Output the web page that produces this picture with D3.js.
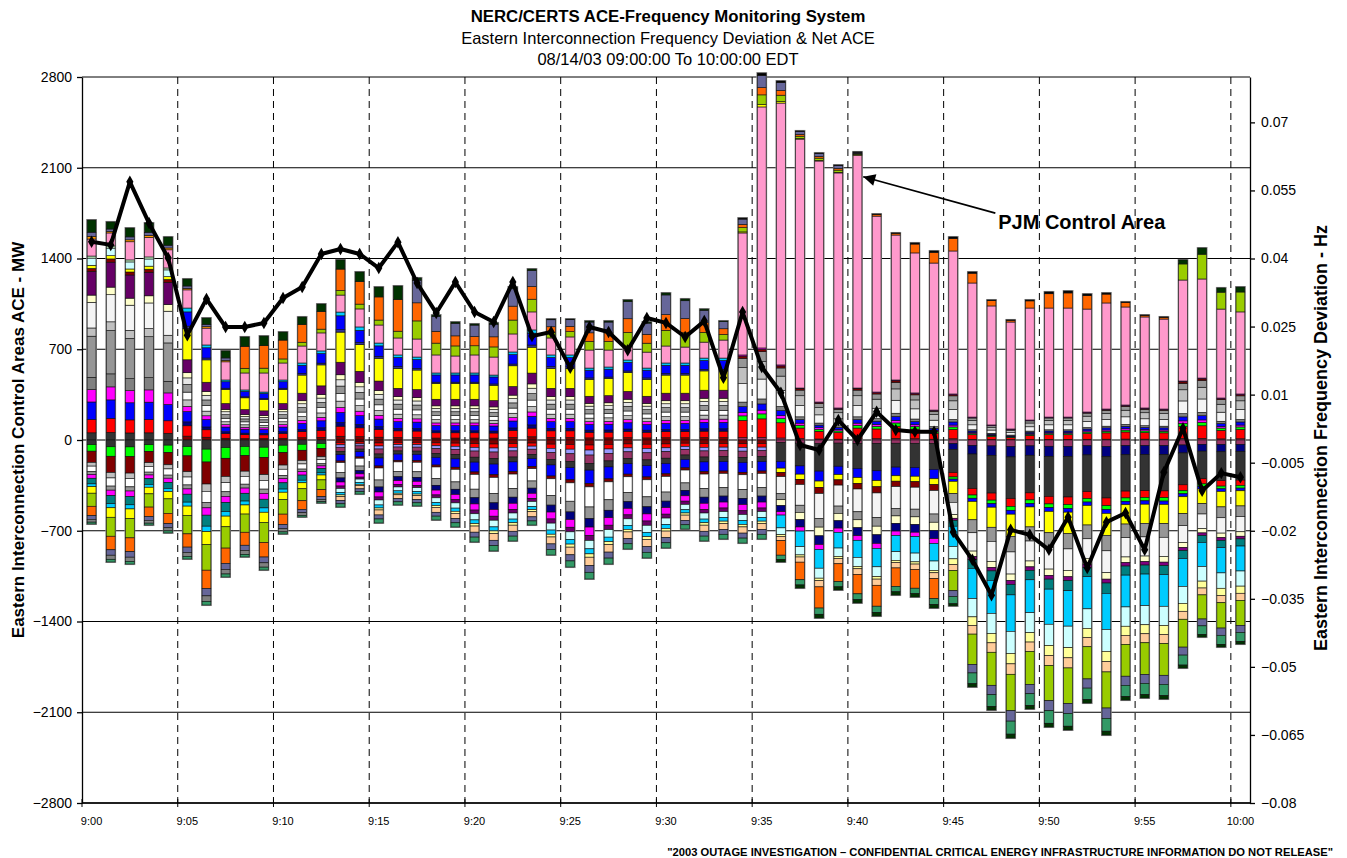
<!DOCTYPE html>
<html>
<head>
<meta charset="utf-8">
<script src="https://d3js.org/d3.v7.min.js"></script>
<style>
	body { margin: 0; background: #fff; }
	svg { font-family: Arial, "Liberation Sans", sans-serif; }
	.title { font-size: 16.8px; font-weight: bold; }
	.subtitle { font-size: 16.5px; }
	.axis text { font-size: 14px; fill: #000; }
	.xlab { font-size: 11px; }
	.axis_title { font-size: 17px; font-weight: bold; }
	.axis_title.right { font-size: 18px; }
	.note { font-size: 20px; font-weight: bold; }
	.footer { font-size: 11.2px; font-weight: bold; }
</style>
</head>
<body>
<script>
	// one bar per minute, 9:00 .. 10:00
	var tickLabels = ["9:00", "9:05", "9:10", "9:15", "9:20", "9:25", "9:30", "9:35", "9:40", "9:45", "9:50", "9:55", "10:00"];
	var leftTicks = [-2800, -2100, -1400, -700, 0, 700, 1400, 2100, 2800];
	var rightTicks = [-0.08, -0.065, -0.05, -0.035, -0.02, -0.005, 0.01, 0.025, 0.04, 0.055, 0.07];

	// positive ACE of the areas stacked under PJM (MW)
	var upOther = [1419,1497,1389,1412,1327,1018,733,463,386,370,
		463,594,687,987,872,748,656,640,517,517,
		517,501,679,849,656,656,555,563,617,555,
		594,594,632,632,656,710,579,401,293,247,
		401,370,463,363,231,355,177,116,85,154,
		177,177,216,239,270,247,239,455,478,324,355];
	// PJM control area ACE (MW)
	var pjmAce = [131,100,140,150,140,140,130,140,131,147,
		131,131,139,131,139,139,131,139,139,131,
		139,139,139,139,131,139,139,131,108,123,
		131,123,123,139,941,1859,2020,1920,1859,1813,
		1797,1357,1118,1080,1134,1103,1034,918,825,864,
		841,841,794,818,756,702,694,779,764,686,633];
	// positive ACE of the areas stacked above PJM (MW)
	var upTop = [147,85,106,112,99,84,78,84,278,285,
		239,224,223,271,285,293,401,471,308,262,
		239,263,362,331,146,138,224,224,355,232,
		409,371,255,147,115,261,170,63,62,61,
		24,16,16,77,93,108,85,46,16,62,
		124,131,116,77,39,15,16,155,239,163,192];
	// sum of negative ACE (MW)
	var aceDown = [-648,-941,-957,-656,-717,-918,-1273,-1057,-902,-1003,
		-725,-594,-486,-517,-417,-640,-501,-509,-617,-671,
		-787,-856,-779,-656,-887,-980,-1072,-957,-841,-910,
		-833,-687,-779,-764,-795,-764,-941,-1142,-1373,-1157,
		-1257,-1358,-1196,-1211,-1296,-1280,-1905,-2083,-2299,-2075,
		-2214,-2237,-2029,-2276,-2006,-1990,-1998,-1759,-1520,-1597,-1574];
	// eastern interconnection frequency deviation (Hz)
	var freqDev = [0.0437,0.0430,0.0569,0.0478,0.0401,0.0231,0.0311,0.0249,0.0249,0.0258,
		0.0313,0.0337,0.0410,0.0421,0.0410,0.0379,0.0436,0.0346,0.0280,0.0348,
		0.0282,0.0260,0.0348,0.0229,0.0238,0.0159,0.0249,0.0238,0.0198,0.0269,
		0.0258,0.0227,0.0262,0.0137,0.0282,0.0161,0.0104,-0.0011,-0.0022,0.0044,
		0.0000,0.0062,0.0022,0.0018,0.0018,-0.0203,-0.0264,-0.0342,-0.0198,-0.0209,
		-0.0242,-0.0170,-0.0282,-0.0181,-0.0161,-0.0242,-0.0071,0.0026,-0.0112,-0.0073,-0.0082];

	// typical make-up of the other control areas (colour, share), by period
	var belowPjm = [
		{ from: 0, to: 4, stripes: [["#333333",7],["#FF0000",13],["#0000FF",17],["#FF00FF",12],["#808080",12],["#969696",40],["#C0C0C0",8],["#F4F4F4",25],["#FFFFCC",7],["#660066",23],["#800000",3],["#FFFF00",3],["#CCFFFF",7],["#CCFFCC",2]] },
		{ from: 5, to: 33, stripes: [["#800000",3],["#FF0000",8],["#000080",3],["#0000FF",8],["#FF00FF",4],["#C0C0C0",5],["#FFFFFF",6],["#969696",6],["#E6E6E6",5],["#FFFFCC",4],["#660066",10],["#FFFF00",24],["#333399",2],["#0000FF",11],["#00CCFF",3]] },
		{ from: 34, to: 60, stripes: [["#993366",2],["#FF0000",15],["#00FF00",4],["#FF00FF",3],["#0000FF",5],["#808080",4],["#F4F4F4",16],["#C0C0C0",14],["#969696",8],["#800000",2],["#FF00FF",1]] }
	];
	var abovePjm = [
		{ from: 0, to: 7, stripes: [["#FF9900",2],["#666699",3],["#003300",9]] },
		{ from: 8, to: 16, stripes: [["#99CC00",3],["#FF6600",14],["#003300",6]] },
		{ from: 17, to: 33, stripes: [["#99CC00",8],["#FF6600",8],["#666699",10],["#003300",1]] },
		{ from: 34, to: 40, stripes: [["#FFFF00",1],["#99CC00",4],["#FF6600",3],["#666699",5],["#000000",1]] },
		{ from: 41, to: 56, stripes: [["#FF6600",8],["#000000",1]] },
		{ from: 57, to: 60, stripes: [["#99CC00",8],["#003300",2]] }
	];
	var negStripes = [
		{ from: 0, to: 12, stripes: [["#333333",5],["#00FF00",7],["#800000",12],["#C0C0C0",4],["#FFFFFF",6],["#969696",3],["#FF00FF",4],["#008080",6],["#00CCFF",3],["#FFFF00",7],["#99CC00",14],["#FF6600",10],["#666699",4],["#808080",3],["#339966",2]] },
		{ from: 13, to: 35, stripes: [["#800000",3],["#FF0000",3],["#9999FF",3],["#993366",5],["#333333",4],["#0000FF",8],["#800000",2],["#FFFFFF",12],["#969696",7],["#000080",5],["#FF00FF",5],["#660066",3],["#CCFFFF",5],["#00CCFF",3],["#FFFF99",2],["#FFCC99",5],["#666699",4],["#339966",4]] },
		{ from: 36, to: 44, stripes: [["#993366",3],["#333333",22],["#0000FF",8],["#FFFF00",5],["#800000",5],["#F4F4F4",20],["#969696",7],["#FFFFCC",7],["#000080",7],["#FF00FF",4],["#00CCFF",15],["#CCFFFF",8],["#FFFF99",2],["#FFCC99",5],["#FF6600",17],["#339966",5],["#003300",3]] },
		{ from: 45, to: 60, stripes: [["#993366",5],["#000080",8],["#333333",32],["#FF0000",6],["#00FF00",3],["#0000FF",3],["#FFFF00",17],["#969696",12],["#F4F4F4",17],["#FFFFCC",5],["#800080",3],["#008080",8],["#00CCFF",28],["#CCFFFF",17],["#FFFF99",8],["#FFCC99",8],["#99CC00",28],["#666699",8],["#339966",10],["#003300",3]] }
	];
	var pjmColor = "#FF99CC";

	var width = 1347;
	var height = 858;
	var margin = { top: 77, right: 97, bottom: 55, left: 82 };

	var xScale = d3.scaleLinear()
		.domain([0, 61])
		.range([margin.left, width - margin.right]);
	var yScale = d3.scaleLinear()
		.domain([-2800, 2800])
		.range([height - margin.bottom, margin.top]);
	var fScale = d3.scaleLinear()
		.domain([-0.08, 0.08])
		.range([height - margin.bottom, margin.top]);

	var bw = 8.8;

	var svg = d3.select("body")
		.append("svg")
		.attr("width", width)
		.attr("height", height);

	// titles
	svg.append("text").attr("class", "title").attr("x", 668).attr("y", 22)
		.attr("text-anchor", "middle").text("NERC/CERTS ACE-Frequency Monitoring System");
	svg.append("text").attr("class", "subtitle").attr("x", 668).attr("y", 44)
		.attr("text-anchor", "middle").text("Eastern Interconnection Frequency Deviation & Net ACE");
	svg.append("text").attr("class", "subtitle").attr("x", 668).attr("y", 65)
		.attr("text-anchor", "middle").text("08/14/03 09:00:00 To 10:00:00 EDT");

	// grid
	svg.append("g").selectAll("line")
		.data(leftTicks)
		.enter().append("line")
		.attr("x1", xScale(0)).attr("x2", xScale(61))
		.attr("y1", function(d) { return yScale(d) }).attr("y2", function(d) { return yScale(d) })
		.attr("stroke", "#000").attr("stroke-width", 1);
	svg.append("g").selectAll("line")
		.data(d3.range(5, 61, 5))
		.enter().append("line")
		.attr("x1", function(d) { return xScale(d) }).attr("x2", function(d) { return xScale(d) })
		.attr("y1", yScale(2800)).attr("y2", yScale(-2800))
		.attr("stroke", "#000").attr("stroke-width", 1).attr("stroke-dasharray", "7,5");

	// build stacked segments
	function pick(table, i) {
		return table.filter(function(p) { return i >= p.from && i <= p.to })[0].stripes;
	}
	var segs = [];
	pjmAce.forEach(function(p, i) {
		var y = 0;
		var list = pick(belowPjm, i), tot = d3.sum(list, function(d) { return d[1] });
		list.forEach(function(s) {
			var v = upOther[i] * s[1] / tot;
			segs.push({ i: i, y0: y, y1: y + v, color: s[0] }); y += v;
		});
		segs.push({ i: i, y0: y, y1: y + p, color: pjmColor }); y += p;
		list = pick(abovePjm, i); tot = d3.sum(list, function(d) { return d[1] });
		list.forEach(function(s) {
			var v = upTop[i] * s[1] / tot;
			segs.push({ i: i, y0: y, y1: y + v, color: s[0] }); y += v;
		});
		y = 0;
		list = pick(negStripes, i); tot = d3.sum(list, function(d) { return d[1] });
		list.forEach(function(s) {
			var v = aceDown[i] * s[1] / tot;
			segs.push({ i: i, y0: y + v, y1: y, color: s[0] }); y += v;
		});
	});

	// bar halo
	svg.append("g").selectAll("rect")
		.data(pjmAce)
		.enter().append("rect")
		.attr("x", function(d, i) { return xScale(i + 0.5) - bw / 2 - 1 })
		.attr("width", bw + 2)
		.attr("y", function(d, i) { return yScale(upOther[i] + d + upTop[i]) - 1 })
		.attr("height", function(d, i) { return yScale(aceDown[i]) - yScale(upOther[i] + d + upTop[i]) + 2 })
		.attr("fill", "#8a8a8a");

	svg.append("g").selectAll("rect")
		.data(segs)
		.enter().append("rect")
		.attr("x", function(d) { return xScale(d.i + 0.5) - bw / 2 })
		.attr("width", bw)
		.attr("y", function(d) { return yScale(d.y1) })
		.attr("height", function(d) { return Math.max(0.5, yScale(d.y0) - yScale(d.y1)) })
		.attr("fill", function(d) { return d.color })
		.attr("stroke", "#111")
		.attr("stroke-width", 0.6);

	// axes
	var yAxis = d3.axisLeft(yScale).tickValues(leftTicks).tickSize(5).tickSizeOuter(0).tickPadding(5)
		.tickFormat(d3.format("d"));
	svg.append("g").attr("class", "axis")
		.attr("transform", "translate(" + [margin.left, 0] + ")")
		.call(yAxis);
	var fAxis = d3.axisRight(fScale).tickValues(rightTicks).tickSize(5).tickSizeOuter(0).tickPadding(6)
		.tickFormat(function(d) { return d3.format("")(+d.toFixed(3)) });
	svg.append("g").attr("class", "axis")
		.attr("transform", "translate(" + [width - margin.right, 0] + ")")
		.call(fAxis);
	svg.selectAll(".axis path, .axis line").attr("stroke", "#000").attr("stroke-width", 1.3);

	// x axis
	var xg = svg.append("g");
	xg.append("line")
		.attr("x1", xScale(0)).attr("x2", xScale(61))
		.attr("y1", yScale(-2800)).attr("y2", yScale(-2800))
		.attr("stroke", "#000").attr("stroke-width", 1.3);
	xg.selectAll("line.tk")
		.data(tickLabels)
		.enter().append("line").attr("class", "tk")
		.attr("x1", function(d, i) { return xScale(i * 5) }).attr("x2", function(d, i) { return xScale(i * 5) })
		.attr("y1", yScale(-2800) - 4).attr("y2", yScale(-2800) + 4)
		.attr("stroke", "#000");
	xg.selectAll("text")
		.data(tickLabels)
		.enter().append("text").attr("class", "xlab")
		.attr("x", function(d, i) { return xScale(i * 5 + 0.5) })
		.attr("y", yScale(-2800) + 22)
		.attr("text-anchor", "middle")
		.text(function(d) { return d });

	// frequency line
	var line = d3.line()
		.x(function(d, i) { return xScale(i + 0.5) })
		.y(function(d) { return fScale(d) });
	svg.append("path")
		.datum(freqDev)
		.attr("d", line)
		.attr("fill", "none")
		.attr("stroke", "#000")
		.attr("stroke-width", 4)
		.attr("stroke-linejoin", "round");
	svg.append("g").selectAll("path")
		.data(freqDev)
		.enter().append("path")
		.attr("d", d3.symbol().type(d3.symbolDiamond).size(45))
		.attr("transform", function(d, i) { return "translate(" + [xScale(i + 0.5), fScale(d)] + ")" })
		.attr("fill", "#000");

	// axis titles
	svg.append("text").attr("class", "axis_title")
		.attr("transform", "translate(24," + yScale(0) + ") rotate(-90)")
		.attr("text-anchor", "middle")
		.text("Eastern Interconnection Control Areas ACE - MW");
	svg.append("text").attr("class", "axis_title right")
		.attr("transform", "translate(1327," + (yScale(0) - 2) + ") rotate(-90)")
		.attr("text-anchor", "middle")
		.text("Eastern Interconnection Frequency Deviation - Hz");

	// PJM annotation
	svg.append("defs").append("marker")
		.attr("id", "arrow").attr("viewBox", "0 0 10 10")
		.attr("refX", 10).attr("refY", 5)
		.attr("markerWidth", 16).attr("markerHeight", 12)
		.attr("markerUnits", "userSpaceOnUse")
		.attr("orient", "auto")
		.append("path").attr("d", "M0,0L10,5L0,10z").attr("fill", "#000");
	svg.append("line")
		.attr("x1", xScale(47.7)).attr("y1", yScale(1750))
		.attr("x2", xScale(40.8)).attr("y2", yScale(2030))
		.attr("stroke", "#000").attr("stroke-width", 1.6)
		.attr("marker-end", "url(#arrow)");
	svg.append("text").attr("class", "note")
		.attr("x", xScale(47.85)).attr("y", yScale(1630))
		.text("PJM Control Area");

	svg.append("text").attr("class", "footer")
		.attr("x", 1333).attr("y", 856)
		.attr("text-anchor", "end")
		.text("\"2003 OUTAGE INVESTIGATION \u2013 CONFIDENTIAL CRITICAL ENERGY INFRASTRUCTURE INFORMATION DO NOT RELEASE\"");
</script>
</body>
</html>
